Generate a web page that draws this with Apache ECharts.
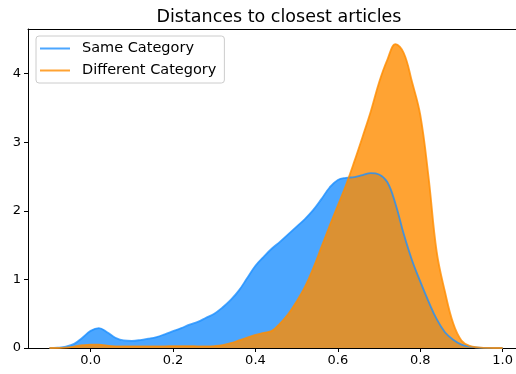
<!DOCTYPE html>
<html>
<head>
<meta charset="utf-8">
<script src="https://cdn.jsdelivr.net/npm/echarts@6/dist/echarts.min.js"></script>
<style>html,body{margin:0;padding:0;background:#fff}#c{width:516px;height:374px}</style>
</head>
<body>
<div id="c"></div>
<script>
const titleText = 'Distances to closest articles';
const seriesNames = ['Same Category', 'Different Category'];
const xs = [-0.10,-0.08,-0.06,-0.04,-0.02,0.00,0.02,0.04,0.06,0.08,0.10,0.12,0.14,0.16,0.18,0.20,0.22,0.24,0.26,0.28,0.30,0.32,0.34,0.36,0.38,0.40,0.42,0.44,0.46,0.48,0.50,0.52,0.54,0.56,0.58,0.60,0.62,0.64,0.66,0.68,0.70,0.72,0.74,0.76,0.78,0.80,0.82,0.84,0.86,0.88,0.90,0.92,0.94,0.96,0.98,1.00];
const sameCat = [0.0,0.005,0.02,0.06,0.15,0.25,0.29,0.23,0.15,0.11,0.105,0.115,0.135,0.16,0.2,0.245,0.29,0.34,0.38,0.44,0.5,0.59,0.7,0.84,1.02,1.2,1.33,1.45,1.55,1.66,1.77,1.88,2.01,2.17,2.34,2.45,2.48,2.49,2.52,2.55,2.53,2.42,2.1,1.66,1.28,0.97,0.68,0.42,0.23,0.12,0.05,0.02,0.005,0.0,0.0,0.0];
const diffCat = [0.0,0.0,0.005,0.02,0.04,0.05,0.05,0.035,0.025,0.025,0.025,0.025,0.025,0.025,0.025,0.028,0.028,0.028,0.025,0.025,0.028,0.04,0.07,0.11,0.15,0.19,0.22,0.25,0.36,0.5,0.68,0.89,1.16,1.47,1.78,2.08,2.38,2.72,3.08,3.45,3.87,4.2,4.43,4.3,3.88,3.4,2.5,1.4,0.82,0.36,0.11,0.03,0.008,0.002,0.0,0.0];
const xTicks = [0.0,0.2,0.4,0.6,0.8,1.0];
const yTicks = [0,1,2,3,4];

const blueFill = 'rgba(30,144,255,0.8)';
const orangeFill = 'rgba(255,140,0,0.8)';
const blueLine = 'rgba(30,144,255,0.8)';
const orangeLine = 'rgba(255,140,0,0.8)';

const pairs = ys => xs.map((x, i) => [x, ys[i]]);
const font = 'DejaVu Sans';

const chart = echarts.init(document.getElementById('c'), null, {renderer: 'canvas'});
chart.setOption({
  animation: false,
  backgroundColor: '#fff',
  title: {
    text: titleText, left: 274, top: 3, textAlign: 'center',
    textStyle: {fontFamily: font, fontSize: 17.5, fontWeight: 'normal', color: '#000'}
  },
  grid: {left: 28, right: 0, top: 29, bottom: 26, containLabel: false},
  legend: {
    data: seriesNames, orient: 'vertical', left: 36, top: 36,
    icon: 'rect', itemWidth: 30, itemHeight: 2, itemGap: 7,
    padding: [5, 8, 5, 4],
    borderColor: '#cccccc', borderWidth: 1, borderRadius: 3, backgroundColor: 'rgba(255,255,255,0.8)',
    textStyle: {fontFamily: font, fontSize: 14.5, color: '#000', padding: [0, 0, 0, 7]}
  },
  xAxis: [{
    type: 'value', min: -0.152, max: 1.032,
    axisLine: {show: true, onZero: false, lineStyle: {color: '#000', width: 1}},
    axisTick: {show: true, length: 4, lineStyle: {color: '#000'}, customValues: xTicks},
    axisLabel: {fontFamily: font, fontSize: 13, color: '#000', margin: 6, customValues: xTicks,
      formatter: v => v.toFixed(1)},
    splitLine: {show: false}
  }, {
    type: 'value', position: 'top', min: -0.152, max: 1.032,
    axisLine: {show: true, onZero: false, lineStyle: {color: '#000', width: 1}},
    axisTick: {show: false}, axisLabel: {show: false}, splitLine: {show: false}
  }],
  yAxis: {
    type: 'value', min: 0, max: 4.65,
    axisLine: {show: true, onZero: false, lineStyle: {color: '#000', width: 1}},
    axisTick: {show: true, length: 4, lineStyle: {color: '#000'}, customValues: yTicks},
    axisLabel: {fontFamily: font, fontSize: 13, color: '#000', margin: 7, customValues: yTicks},
    splitLine: {show: false}
  },
  series: [
    {name: 'sameFill', type: 'line', data: pairs(sameCat), smooth: 0.4, showSymbol: false, z: 1,
      lineStyle: {width: 0}, areaStyle: {color: blueFill, opacity: 1}, itemStyle: {color: blueFill}},
    {name: 'diffFill', type: 'line', data: pairs(diffCat), smooth: 0.4, showSymbol: false, z: 2,
      lineStyle: {width: 0}, areaStyle: {color: orangeFill, opacity: 1}, itemStyle: {color: orangeFill}},
    {name: seriesNames[0], type: 'line', data: pairs(sameCat), smooth: 0.4, showSymbol: false, z: 3,
      lineStyle: {width: 1.8, color: blueLine}, itemStyle: {color: blueLine}},
    {name: seriesNames[1], type: 'line', data: pairs(diffCat), smooth: 0.4, showSymbol: false, z: 3,
      lineStyle: {width: 1.8, color: orangeLine}, itemStyle: {color: orangeLine}}
  ]
});
</script>
</body>
</html>
